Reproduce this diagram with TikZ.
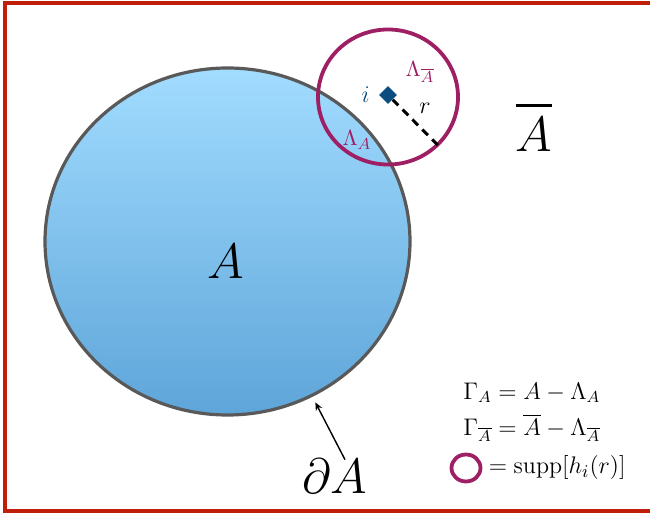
\documentclass[tikz,border=0pt]{standalone}
\usepackage{xcolor}
\usepackage{tikz}
\usetikzlibrary{arrows.meta,positioning,shapes.geometric,calc}
\usepackage{amsmath,amssymb}

\definecolor{framered}{HTML}{BE1E0A}
\definecolor{suppmag}{HTML}{9E1F63}
\definecolor{siteblue}{HTML}{0B4D7F}
\definecolor{skytop}{HTML}{A2DCFF}
\definecolor{skybot}{HTML}{5EA5D9}

\begin{document}
\begin{tikzpicture}[
    x=0.5pt, y=-0.5pt,
    region/.style={ellipse, draw=black!65, line width=1.6pt, top color=skytop, bottom color=skybot, inner sep=0pt},
    suppring/.style={ellipse, draw=suppmag, line width=1.9pt, inner sep=0pt},
    lbl/.style={text=suppmag, font=\fontsize{11}{13}\selectfont},
    legend/.style={anchor=west, font=\fontsize{12}{14}\selectfont, inner sep=0pt},
    arrow/.style={-{Stealth[length=4pt,width=3.5pt]}, line width=0.7pt}
]
\useasboundingbox (0,0) rectangle (650,513);
% frame
\draw[framered, line width=2pt] (700,3) -- (5,3) -- (5,511) -- (700,511);

% region A and the support of h_i(r)
\node[region, minimum width=182.5pt, minimum height=173.5pt] (regA) at (227.5,241.5) {};
\node[suppring, minimum width=70pt, minimum height=67.5pt] (supp) at (388,97) {};
\node[font=\fontsize{40}{46}\selectfont] (Alab) at (226,262) {$A$};
\node[font=\fontsize{41}{48}\selectfont] (Abar) at (534,126) {$\overline{A}$};

% site i and radius r
\node[diamond, fill=siteblue, minimum size=9pt, inner sep=0pt] (site) at (388,95) {};
\node[text=siteblue, font=\fontsize{12}{14}\selectfont, left=1pt of site] (ilab) {$i$};
\draw[line width=1.5pt, dash pattern=on 4pt off 3pt] (site) -- (supp.-44);
\node[font=\fontsize{12}{14}\selectfont] (rlab) at (425,108) {$r$};
\node[lbl] (lamAbar) at (420,72) {$\Lambda_{\overline{A}}$};
\node[lbl] (lamA) at (357,140) {$\Lambda_A$};

% boundary
\node[font=\fontsize{32}{40}\selectfont] (dA) at (335,476) {$\partial A$};
\draw[arrow] ([xshift=5pt, yshift=-4pt]dA.north) -- ([shift={(1pt,-3pt)}]regA.-61);

% legend
\node[legend] (leg1) at (463,393) {$\Gamma_A = A - \Lambda_A$};
\node[legend] (leg2) at (463,428) {$\Gamma_{\overline{A}} = \overline{A} - \Lambda_{\overline{A}}$};
\node[suppring, minimum width=14.5pt, minimum height=13.5pt] (legring) at (466,468) {};
\node[legend, right=3pt of legring, font=\fontsize{12.6}{15}\selectfont] (leg3) {$= \operatorname{supp}[h_i(r)]$};
\end{tikzpicture}
\end{document}
